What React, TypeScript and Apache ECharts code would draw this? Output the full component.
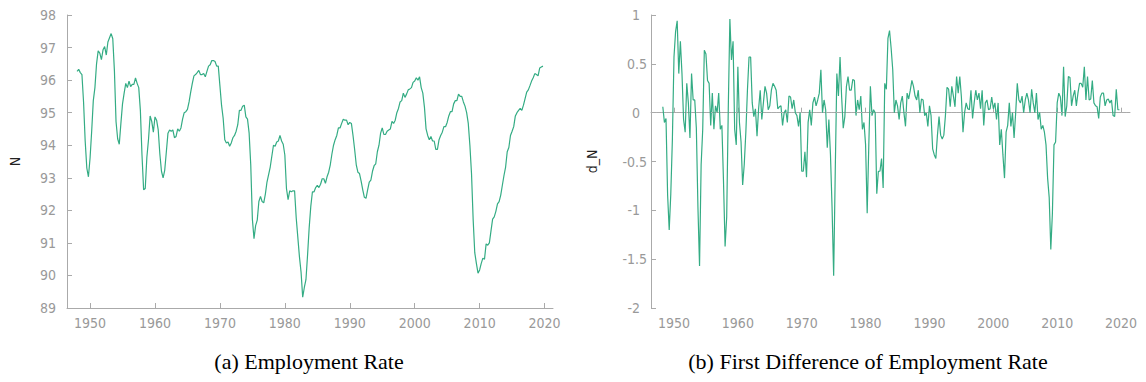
import React, { useEffect, useRef } from "react";
import * as echarts from "echarts";

// Quarterly employment rate N (percent), 1948Q1 .. 2019Q4
const START_YEAR = 1948;
const N: number[] = [
  96.27, 96.33, 96.23, 96.17,
  95.33, 94.13, 93.30, 93.03,
  93.60, 94.43, 95.37, 95.77,
  96.50, 96.90, 96.83, 96.63,
  96.93, 97.03, 96.77, 97.17,
  97.30, 97.43, 97.27, 96.30,
  94.73, 94.20, 94.03, 94.67,
  95.27, 95.60, 95.90, 95.77,
  95.97, 95.80, 95.87, 95.87,
  96.07, 95.90, 95.77, 95.07,
  93.70, 92.63, 92.67, 93.63,
  94.17, 94.90, 94.73, 94.40,
  94.87, 94.77, 94.47, 93.73,
  93.20, 93.00, 93.23, 93.80,
  94.37, 94.47, 94.43, 94.47,
  94.23, 94.27, 94.50, 94.43,
  94.53, 94.80, 95.00, 95.03,
  95.10, 95.33, 95.63, 95.90,
  96.13, 96.17, 96.23, 96.30,
  96.17, 96.17, 96.20, 96.10,
  96.27, 96.43, 96.47, 96.60,
  96.60, 96.57, 96.43, 96.43,
  95.83, 95.23, 94.83, 94.17,
  94.07, 94.10, 93.97, 94.07,
  94.23, 94.30, 94.43, 94.63,
  95.07, 95.07, 95.20, 95.23,
  94.87, 94.80, 94.37, 93.40,
  91.73, 91.13, 91.53, 91.70,
  92.27, 92.43, 92.27, 92.23,
  92.50, 92.87, 93.10, 93.33,
  93.67, 94.00, 93.97, 94.10,
  94.13, 94.30, 94.13, 94.03,
  93.70, 92.67, 92.33, 92.60,
  92.57, 92.60, 92.60, 91.77,
  91.17, 90.57, 90.10, 89.33,
  89.63, 89.87, 90.63, 91.47,
  92.13, 92.57, 92.57, 92.70,
  92.77, 92.70, 92.80, 92.97,
  92.97, 92.83, 93.03, 93.17,
  93.40, 93.73, 94.00, 94.17,
  94.30, 94.53, 94.53, 94.67,
  94.80, 94.77, 94.77, 94.63,
  94.70, 94.67, 94.30, 93.87,
  93.40, 93.17, 93.13, 92.90,
  92.63, 92.40, 92.37, 92.63,
  92.87, 92.93, 93.20, 93.37,
  93.43, 93.80, 94.00, 94.37,
  94.53, 94.33, 94.33, 94.43,
  94.47, 94.50, 94.73, 94.67,
  94.77, 95.00, 95.13, 95.33,
  95.37, 95.60, 95.47, 95.57,
  95.70, 95.73, 95.77, 95.93,
  95.97, 96.07, 96.00, 96.10,
  95.77, 95.60, 95.17, 94.50,
  94.30, 94.17, 94.27, 94.13,
  94.13, 93.87, 93.87, 94.17,
  94.30, 94.40, 94.57, 94.57,
  94.70, 94.90, 95.03, 95.03,
  95.27, 95.37, 95.37, 95.57,
  95.50, 95.50, 95.33, 95.20,
  95.00, 94.67, 94.00, 93.13,
  91.73, 90.70, 90.37, 90.07,
  90.17, 90.37, 90.53, 90.50,
  90.97, 90.93, 91.00, 91.37,
  91.73, 91.80, 91.97, 92.20,
  92.27, 92.47, 92.77, 93.07,
  93.33, 93.80, 93.93, 94.30,
  94.43, 94.57, 94.90, 95.00,
  95.07, 95.13, 95.07, 95.23,
  95.43, 95.63, 95.70, 95.83,
  95.97, 96.07, 96.20, 96.17,
  96.13, 96.37, 96.40, 96.43,
];

// First difference d_N, 1948Q2 .. 2019Q4
const D_START_YEAR = 1948.25;
const D_N: number[] = [
  0.06, -0.10, -0.06,
  -0.84, -1.20, -0.83, -0.27,
  0.57, 0.83, 0.94, 0.40,
  0.73, 0.40, -0.07, -0.20,
  0.30, 0.10, -0.26, 0.40,
  0.13, 0.13, -0.16, -0.97,
  -1.57, -0.53, -0.17, 0.64,
  0.60, 0.33, 0.30, -0.13,
  0.20, -0.17, 0.07, 0.00,
  0.20, -0.17, -0.13, -0.70,
  -1.37, -1.07, 0.04, 0.96,
  0.54, 0.73, -0.17, -0.33,
  0.47, -0.10, -0.30, -0.74,
  -0.53, -0.20, 0.23, 0.57,
  0.57, 0.10, -0.04, 0.04,
  -0.24, 0.04, 0.23, -0.07,
  0.10, 0.27, 0.20, 0.03,
  0.07, 0.23, 0.30, 0.27,
  0.23, 0.04, 0.06, 0.07,
  -0.13, 0.00, 0.03, -0.10,
  0.17, 0.16, 0.04, 0.13,
  0.00, -0.03, -0.14, 0.00,
  -0.60, -0.60, -0.40, -0.66,
  -0.10, 0.03, -0.13, 0.10,
  0.16, 0.07, 0.13, 0.20,
  0.44, 0.00, 0.13, 0.03,
  -0.36, -0.07, -0.43, -0.97,
  -1.67, -0.60, 0.40, 0.17,
  0.57, 0.16, -0.16, -0.04,
  0.27, 0.37, 0.23, 0.23,
  0.34, 0.33, -0.03, 0.13,
  0.03, 0.17, -0.17, -0.10,
  -0.33, -1.03, -0.34, 0.27,
  -0.03, 0.03, 0.00, -0.83,
  -0.60, -0.60, -0.47, -0.77,
  0.30, 0.24, 0.76, 0.84,
  0.66, 0.44, 0.00, 0.13,
  0.07, -0.07, 0.10, 0.17,
  0.00, -0.14, 0.20, 0.14,
  0.23, 0.33, 0.27, 0.17,
  0.13, 0.23, 0.00, 0.14,
  0.13, -0.03, 0.00, -0.14,
  0.07, -0.03, -0.37, -0.43,
  -0.47, -0.23, -0.04, -0.23,
  -0.27, -0.23, -0.03, 0.26,
  0.24, 0.06, 0.27, 0.17,
  0.06, 0.37, 0.20, 0.37,
  0.16, -0.20, 0.00, 0.10,
  0.04, 0.03, 0.23, -0.06,
  0.10, 0.23, 0.13, 0.20,
  0.04, 0.23, -0.13, 0.10,
  0.13, 0.03, 0.04, 0.16,
  0.04, 0.10, -0.07, 0.10,
  -0.33, -0.17, -0.43, -0.67,
  -0.20, -0.13, 0.10, -0.14,
  0.00, -0.26, 0.00, 0.30,
  0.13, 0.10, 0.17, 0.00,
  0.13, 0.20, 0.13, 0.00,
  0.24, 0.10, 0.00, 0.20,
  -0.07, 0.00, -0.17, -0.13,
  -0.20, -0.33, -0.67, -0.87,
  -1.40, -1.03, -0.33, -0.30,
  0.10, 0.20, 0.16, -0.03,
  0.47, -0.04, 0.07, 0.37,
  0.36, 0.07, 0.17, 0.23,
  0.07, 0.20, 0.30, 0.30,
  0.26, 0.47, 0.13, 0.37,
  0.13, 0.14, 0.33, 0.10,
  0.07, 0.06, -0.06, 0.16,
  0.20, 0.20, 0.07, 0.13,
  0.14, 0.10, 0.13, -0.03,
  -0.04, 0.24, 0.03, 0.03,
];

const YEAR_TICKS = [1950, 1960, 1970, 1980, 1990, 2000, 2010, 2020];
const CAPTIONS = ["(a) Employment Rate", "(b) First Difference of Employment Rate"];

const LINE_COLOR = "#34ac84";
const AXIS_COLOR = "#aaaaaa";
const LABEL_COLOR = "#999999";
const LABEL_FONT = "'DejaVu Sans Condensed', 'DejaVu Sans', sans-serif";
const CAPTION_FONT = "'Liberation Serif', 'Times New Roman', serif";

export default function App() {
  const ref = useRef<HTMLDivElement>(null);
  useEffect(() => {
    if (!ref.current) return;
    const chart = echarts.init(ref.current, undefined, { renderer: "svg" });
    const nData = N.map((v, i) => [START_YEAR + i / 4, v]);
    const dData = D_N.map((v, i) => [D_START_YEAR + i / 4, v]);

    const yLabelFormatter = (v: number) =>
      Number.isInteger(v) ? `{i|${v}}` : `{d|${v}}`;

    const xAxisBase = (gridIndex: number, min: number, max: number) => ({
      type: "value" as const,
      gridIndex,
      min,
      max,
      axisLine: { show: true, lineStyle: { color: AXIS_COLOR, width: 1 } },
      axisTick: {
        show: true,
        inside: true,
        length: 5,
        customValues: YEAR_TICKS,
        lineStyle: { color: AXIS_COLOR },
      },
      axisLabel: {
        customValues: YEAR_TICKS,
        color: LABEL_COLOR,
        fontFamily: LABEL_FONT,
        fontSize: 14,
        margin: 8,
        formatter: (v: number) => String(v),
      },
      splitLine: { show: false },
    });

    const yAxisBase = (
      gridIndex: number,
      min: number,
      max: number,
      interval: number,
      name: string,
      nameGap: number
    ) => ({
      type: "value" as const,
      gridIndex,
      min,
      max,
      interval,
      name,
      nameLocation: "middle" as const,
      nameRotate: 90,
      nameGap,
      nameTextStyle: { color: "#222222", fontFamily: LABEL_FONT, fontSize: 14 },
      axisLine: { show: true, lineStyle: { color: AXIS_COLOR, width: 1 } },
      axisTick: { show: true, inside: true, length: 5, lineStyle: { color: AXIS_COLOR } },
      axisLabel: {
        color: LABEL_COLOR,
        fontFamily: LABEL_FONT,
        fontSize: 14,
        margin: 4,
        formatter: yLabelFormatter,
        rich: {
          i: { color: LABEL_COLOR, fontFamily: LABEL_FONT, fontSize: 14, padding: [0, 7, 0, 0] },
          d: { color: LABEL_COLOR, fontFamily: LABEL_FONT, fontSize: 14 },
        },
      },
      splitLine: { show: false },
    });

    chart.setOption({
      animation: false,
      backgroundColor: "#ffffff",
      grid: [
        { left: 67, top: 15, width: 486, height: 293, containLabel: false, outerBoundsMode: "none" },
        { left: 651, top: 15, width: 479, height: 293, containLabel: false, outerBoundsMode: "none" },
      ],
      xAxis: [xAxisBase(0, 1946.45, 2021.3), xAxisBase(1, 1946.4, 2021.4)],
      yAxis: [
        yAxisBase(0, 89, 98, 1, "N", 45),
        yAxisBase(1, -2, 1, 0.5, "d_N", 52),
      ],
      series: [
        {
          type: "line",
          xAxisIndex: 0,
          yAxisIndex: 0,
          data: nData,
          showSymbol: false,
          symbol: "none",
          lineStyle: { color: LINE_COLOR, width: 1.2 },
          itemStyle: { color: LINE_COLOR },
        },
        {
          type: "line",
          xAxisIndex: 1,
          yAxisIndex: 1,
          data: dData,
          showSymbol: false,
          symbol: "none",
          lineStyle: { color: LINE_COLOR, width: 1.2 },
          itemStyle: { color: LINE_COLOR },
          markLine: {
            silent: true,
            symbol: "none",
            label: { show: false },
            lineStyle: { color: "#b0b0b0", type: [1, 4], width: 1 },
            data: [{ yAxis: 0 }],
          },
        },
      ],
      graphic: [
        {
          type: "text",
          x: 309,
          y: 361,
          style: {
            text: CAPTIONS[0],
            fontFamily: CAPTION_FONT,
            fontSize: 22,
            fill: "#000000",
            textAlign: "center",
            textVerticalAlign: "middle",
          },
        },
        {
          type: "text",
          x: 868,
          y: 361,
          style: {
            text: CAPTIONS[1],
            fontFamily: CAPTION_FONT,
            fontSize: 22,
            fill: "#000000",
            textAlign: "center",
            textVerticalAlign: "middle",
          },
        },
      ],
    });
    return () => chart.dispose();
  }, []);
  return (
    <div
      ref={ref}
      style={{ position: "absolute", left: 0, top: 0, width: 1146, height: 382 }}
    />
  );
}
